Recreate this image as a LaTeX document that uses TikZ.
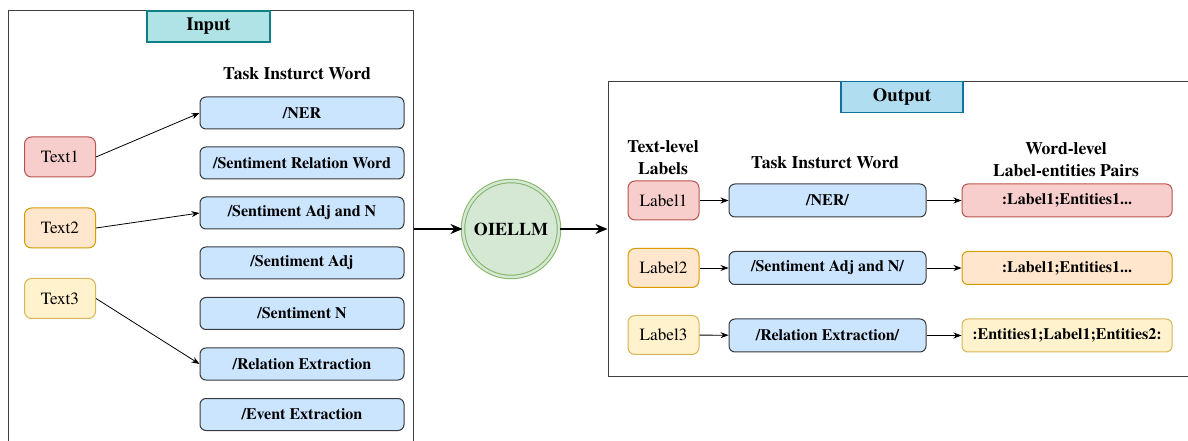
\documentclass[tikz,border=0pt]{standalone}
\usepackage{fontspec}
\setmainfont{texgyretermes}[Extension=.otf, UprightFont=*-regular, BoldFont=*-bold,
	ItalicFont=*-italic, BoldItalicFont=*-bolditalic]
\usepackage{xcolor}
\usetikzlibrary{arrows.meta,positioning}

\definecolor{redfill}{HTML}{F8CECC}
\definecolor{redline}{HTML}{B85450}
\definecolor{orangefill}{HTML}{FFE6CC}
\definecolor{orangeline}{HTML}{D79B00}
\definecolor{yellowfill}{HTML}{FFF2CC}
\definecolor{yellowline}{HTML}{D6B656}
\definecolor{bluefill}{HTML}{CCE5FF}
\definecolor{blueline}{HTML}{36393D}
\definecolor{tealfill}{HTML}{B0E3E6}
\definecolor{tealline}{HTML}{0E8088}
\definecolor{skyfill}{HTML}{B1DDF0}
\definecolor{skyline}{HTML}{10739E}
\definecolor{greenfill}{HTML}{D5E8D4}
\definecolor{greenline}{HTML}{82B366}

\newcommand{\px}{0.75pt}
\newcommand{\bodyfont}{\fontsize{12}{16.5}\selectfont}
\newcommand{\headfont}{\fontsize{13.2}{16.5}\selectfont}

\tikzset{
	frame/.style={draw=black!75, line width=1*\px, inner sep=0pt},
	titlebox/.style={draw=#1line, fill=#1fill, line width=1.2*\px, inner sep=0pt,
		minimum height=31*\px, font=\fontsize{14}{16}\selectfont\bfseries},
	heading/.style={align=center, inner sep=0pt, font=\headfont\bfseries},
	textbox/.style={draw=#1line, fill=#1fill, line width=1*\px, rounded corners=7*\px,
		minimum width=71*\px, minimum height=40*\px, inner sep=0pt,
		font=\fontsize{12.9}{15}\selectfont},
	taskbox/.style={draw=blueline, fill=bluefill, line width=1*\px, rounded corners=6*\px,
		minimum height=32*\px, inner sep=0pt, font=\bodyfont\bfseries},
	pairbox/.style={draw=#1line, fill=#1fill, line width=1*\px, rounded corners=6*\px,
		minimum width=210*\px, minimum height=33*\px, inner sep=0pt, font=\bodyfont\bfseries},
	thin/.style={-{Stealth[length=6pt,width=4.5pt]}, line width=0.8*\px},
	thick/.style={-{Stealth[length=9pt,width=7.5pt]}, line width=2.2*\px}
}

\begin{document}
\begin{tikzpicture}[x=\px, y=-\px]
	\useasboundingbox (0,0) rectangle (1188,441);

	% input side
	\node[frame, minimum width=405*\px, minimum height=434*\px] (inframe) at (210.5,228) {};
	\node[titlebox=teal, minimum width=123*\px] (intitle) at (208.5,26.5) {Input};
	\node[heading] (inhead) at (297,74) {Task Insturct Word};

	\node[taskbox, minimum width=204*\px] (ner) at (302,113) {/NER};
	\node[taskbox, minimum width=204*\px] (srw) at (302,163) {/Sentiment Relation Word};
	\node[taskbox, minimum width=204*\px] (san) at (302,213) {/Sentiment Adj and N};
	\node[taskbox, minimum width=204*\px] (sadj) at (302,263) {/Sentiment Adj};
	\node[taskbox, minimum width=204*\px] (sn) at (302,313.5) {/Sentiment N};
	\node[taskbox, minimum width=204*\px] (re) at (302,364) {/Relation Extraction};
	\node[taskbox, minimum width=204*\px] (ee) at (302,414.5) {/Event Extraction};

	\node[textbox=red] (text1) at (60,157) {Text1};
	\node[textbox=orange] (text2) at (60,228) {Text2};
	\node[textbox=yellow] (text3) at (60,298.5) {Text3};

	\draw[thin] (text1.east) -- (ner.west);
	\draw[thin] (text2.east) -- (san.west);
	\draw[thin] (text3.east) -- (re.west);

	% model
	\node[circle, draw=greenline, fill=greenfill, double=greenfill, double distance=2.5*\px,
		line width=1*\px, minimum size=96*\px, inner sep=0pt,
		font=\fontsize{13.5}{16}\selectfont\bfseries]
		(llm) at (511,229) {OIELLM};

	% output side
	\node[frame, minimum width=592*\px, minimum height=294*\px] (outframe) at (904,229) {};
	\node[titlebox=sky, minimum width=122*\px] (outtitle) at (902,97) {Output};

	\node[heading] (labhead) at (663,158) {Text-level\\Labels};
	\node[heading] (taskhead) at (825,163) {Task Insturct Word};
	\node[heading] (pairhead) at (1066,159.5) {Word-level\\Label-entities Pairs};

	\node[textbox=red, minimum height=39*\px] (label1) at (663.5,200.5) {Label1};
	\node[textbox=orange, minimum height=39*\px] (label2) at (663.5,268) {Label2};
	\node[textbox=yellow, minimum height=39*\px] (label3) at (663.5,335) {Label3};

	\node[taskbox, minimum width=197*\px, minimum height=33*\px] (oner) at (827.5,200.5) {/NER/};
	\node[taskbox, minimum width=197*\px, minimum height=33*\px] (osan) at (827.5,268) {/Sentiment Adj and N/};
	\node[taskbox, minimum width=197*\px, minimum height=33*\px] (ore) at (827.5,335.5) {/Relation Extraction/};

	\node[pairbox=red] (pair1) at (1067,200.5) {:Label1;Entities1...};
	\node[pairbox=orange] (pair2) at (1067,268) {:Label1;Entities1...};
	\node[pairbox=yellow] (pair3) at (1067,335.5) {:Entities1;Label1;Entities2:};

	\draw[thin] (label1) -- (oner);
	\draw[thin] (label2) -- (osan);
	\draw[thin] (label3) -- (ore);
	\draw[thin] (oner) -- (pair1);
	\draw[thin] (osan) -- (pair2);
	\draw[thin] (ore) -- (pair3);

	\draw[thick] (inframe.east |- llm.west) -- (llm.west);
	\draw[thick] (llm.east) -- (outframe.west |- llm.east);
\end{tikzpicture}
\end{document}
